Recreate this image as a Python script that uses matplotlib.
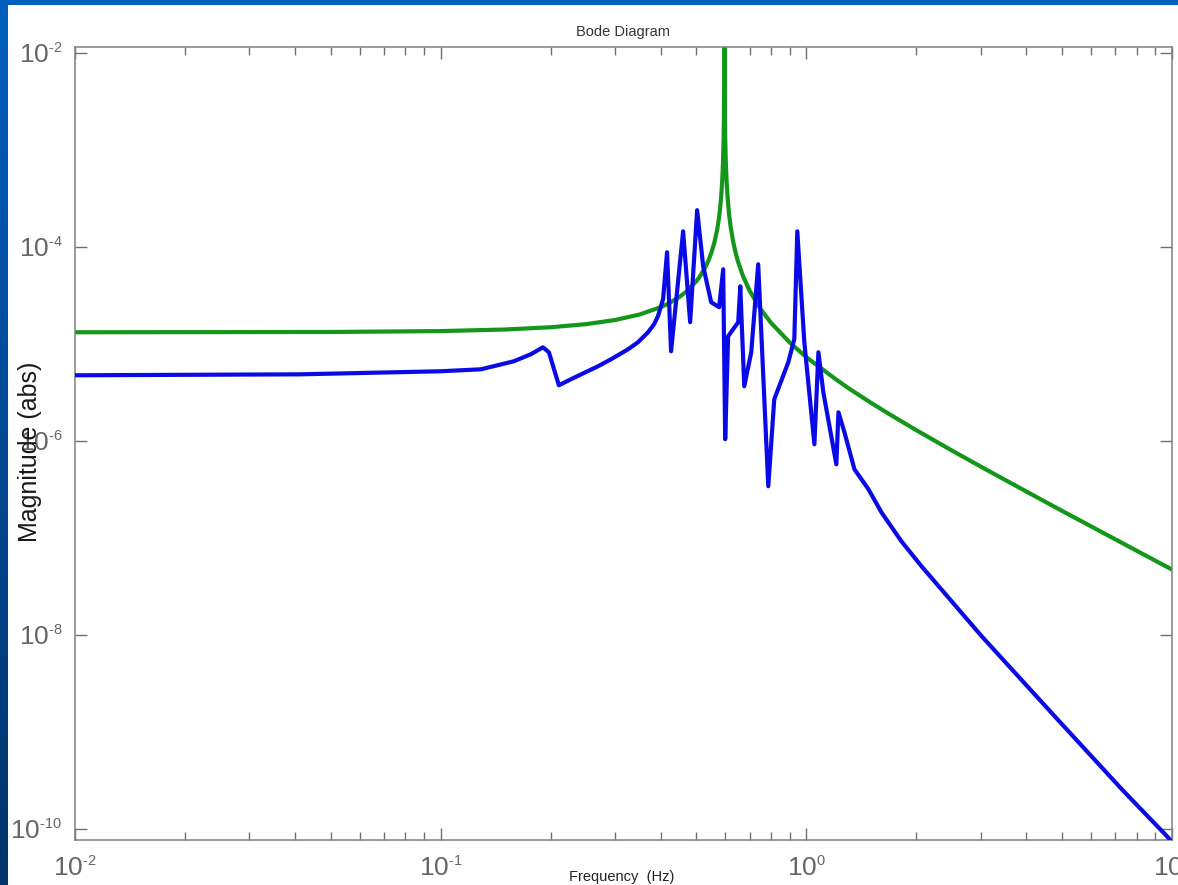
import numpy as np
import matplotlib
matplotlib.use("Agg")
import matplotlib.pyplot as plt
import matplotlib._mathtext as _mt
from matplotlib.colors import LinearSegmentedColormap
from matplotlib.patches import Rectangle
from matplotlib.ticker import LogLocator, NullLocator, FuncFormatter

plt.rcParams['font.family'] = ['Liberation Sans', 'DejaVu Sans']
plt.rcParams['mathtext.fontset'] = 'custom'
plt.rcParams['mathtext.rm'] = 'Liberation Sans'
plt.rcParams['mathtext.it'] = 'Liberation Sans:italic'
plt.rcParams['mathtext.bf'] = 'Liberation Sans:bold'
plt.rcParams['axes.unicode_minus'] = False
_mt.SHRINK_FACTOR = 0.55  # smaller exponents, as in the reference

# ---- data ----
blue_freq = [0.01, 0.0413, 0.1, 0.1288, 0.1585, 0.1764, 0.1904, 0.1977, 0.2105, 0.2271,
             0.2692, 0.2922, 0.3253, 0.3465, 0.3691, 0.3834, 0.3929, 0.4057, 0.4160, 0.4267,
             0.4603, 0.4811, 0.5028, 0.5223, 0.5493, 0.5775, 0.5924, 0.5999, 0.6111, 0.6512,
             0.6597, 0.6764, 0.7069, 0.7385, 0.7869, 0.8171, 0.8926, 0.9271, 0.9447, 0.9874,
             1.052, 1.079, 1.113, 1.208, 1.224, 1.271, 1.354, 1.479, 1.605, 1.82, 2.066,
             2.497, 3.017, 4.780, 7.295, 9.81, 10.0]
blue_mag = [4.79e-6, 4.9e-6, 5.27e-6, 5.52e-6, 6.68e-6, 7.89e-6, 9.31e-6, 8.27e-6, 3.78e-6, 4.36e-6,
            5.93e-6, 7.0e-6, 8.87e-6, 1.05e-5, 1.33e-5, 1.61e-5, 1.95e-5, 2.91e-5, 8.88e-5, 8.47e-6,
            1.46e-4, 1.69e-5, 2.41e-4, 6.37e-5, 2.71e-5, 2.41e-5, 5.93e-5, 1.05e-6, 1.21e-5, 1.69e-5,
            3.96e-5, 3.69e-6, 8.27e-6, 6.68e-5, 3.44e-7, 2.71e-6, 6.52e-6, 1.13e-5, 1.46e-4, 1.05e-5,
            9.31e-7, 8.27e-6, 3.20e-6, 5.79e-7, 1.99e-6, 1.24e-6, 5.14e-7, 3.20e-7, 1.85e-7, 9.31e-8, 5.14e-8,
            2.24e-8, 9.77e-9, 1.46e-9, 2.58e-10, 8.07e-11, 7.2e-11]

green_freq = [0.01, 0.05, 0.1, 0.15, 0.2, 0.25, 0.3, 0.35, 0.4, 0.42, 0.45, 0.47, 0.5, 0.51,
              0.53, 0.54, 0.55, 0.56, 0.57, 0.575, 0.58, 0.585, 0.588, 0.59, 0.592, 0.594, 0.595,
              0.5965, 0.597, 0.5975, 0.599, 0.600, 0.602, 0.605, 0.61, 0.615, 0.62, 0.63, 0.64,
              0.65, 0.67, 0.7, 0.75, 0.8, 0.9, 1.0, 1.2, 1.3, 1.5, 1.7, 2.0, 2.5, 3.0, 4.0, 5.0,
              6.0, 8.0, 10.0]
green_mag = [1.33e-5, 1.339e-5, 1.368e-5, 1.42e-5, 1.498e-5, 1.613e-5, 1.779e-5, 2.027e-5, 2.413e-5,
             2.633e-5, 3.08e-5, 3.50e-5, 4.45e-5, 4.92e-5, 6.28e-5, 7.32e-5, 8.80e-5, 1.107e-4,
             1.50e-4, 1.84e-4, 2.37e-4, 3.34e-4, 4.44e-4, 5.71e-4, 7.97e-4, 1.33e-3, 1.99e-3,
             7.96e-3, 5e-2, 7.96e-3, 1.98e-3, 1.32e-3, 7.90e-4, 4.93e-4, 3.02e-4, 2.17e-4, 1.69e-4,
             1.17e-4, 8.91e-5, 7.17e-5, 5.13e-5, 3.55e-5, 2.30e-5, 1.67e-5, 1.045e-5, 7.36e-6,
             4.40e-6, 3.55e-6, 2.50e-6, 1.87e-6, 1.30e-6, 8.04e-7, 5.48e-7, 3.03e-7, 1.92e-7,
             1.33e-7, 7.45e-8, 4.76e-8]

y_ticks = [1e-10, 1e-8, 1e-6, 1e-4, 1e-2]

title_text = "Bode Diagram"
xlabel_text = "Frequency  (Hz)"
ylabel_text = "Magnitude (abs)"


def pow_label(v, pos):
    e = int(round(np.log10(v)))
    s = ("\\text{-}%d" % (-e)) if e < 0 else "%d" % e
    return r"$\mathdefault{10^{%s}}$" % s


# ---- figure ----
W, H = 1178, 885
fig = plt.figure(figsize=(W / 100, H / 100), dpi=100)
fig.patch.set_facecolor('white')

# slide frame: left gradient bar and top bar
bg = fig.add_axes([0, 0, 8 / W, 1])
grad = np.linspace(0, 1, 256).reshape(-1, 1)
cmap = LinearSegmentedColormap.from_list('slide', ['#00336A', '#005EBE'])
bg.imshow(grad, aspect='auto', cmap=cmap, origin='lower', extent=[0, 1, 0, 1])
bg.set_axis_off()
fig.patches.append(Rectangle((0, 1 - 5 / H), 1, 5 / H, transform=fig.transFigure,
                             facecolor='#005EBE', edgecolor='none', zorder=0))

ax = fig.add_axes([75 / W, 1 - 840 / H, (1172 - 75) / W, (840 - 47) / H])
ax.set_xscale('log')
ax.set_yscale('log')

ax.plot(green_freq, green_mag, color='#14961A', lw=3.0, zorder=2)
ax.plot(blue_freq, blue_mag, color='#0A0AE6', lw=3.0, zorder=3)

ax.set_xlim(0.01, 10.0)
ax.set_ylim(7.76e-11, 1.16e-2)

ax.set_yticks(y_ticks)
ax.yaxis.set_minor_locator(NullLocator())
ax.xaxis.set_major_locator(LogLocator(base=10, numticks=10))
ax.xaxis.set_minor_locator(LogLocator(base=10, subs=np.arange(2, 10), numticks=20))
ax.xaxis.set_major_formatter(FuncFormatter(pow_label))
ax.yaxis.set_major_formatter(FuncFormatter(pow_label))

for s in ax.spines.values():
    s.set_color('#808080')
    s.set_linewidth(1.1)

ax.tick_params(which='both', direction='in', top=True, right=True, color='#707070')
ax.tick_params(which='major', length=8.5, width=1.0, labelsize=19, labelcolor='#666666', pad=9)
ax.tick_params(axis='x', which='major', pad=12)
ax.tick_params(which='minor', length=5.5, width=1.0)

ax.set_title(title_text, fontsize=10.5, color='#333333', pad=8)
ax.set_xlabel(xlabel_text, fontsize=10.5, color='#222222')
ax.xaxis.set_label_coords((622 - 75) / 1097, -(870 - 840) / 793)
ax.set_ylabel(ylabel_text, fontsize=18, color='#1a1a1a')
ax.yaxis.set_label_coords((30 - 75) / 1097, 0.49)
ax.yaxis.label.set_va('center')

fig.savefig('out.png', dpi=100, facecolor='white')
